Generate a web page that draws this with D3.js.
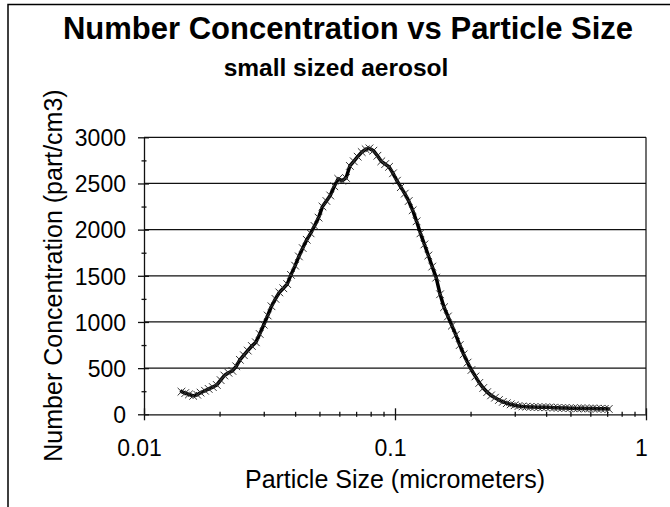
<!DOCTYPE html>
<html>
<head>
<meta charset="utf-8">
<script src="https://cdn.jsdelivr.net/npm/d3@7"></script>
<style>
body { margin: 0; background: #fff; }
svg text { font-family: "Liberation Sans", Arial, sans-serif; fill: #000; }
</style>
</head>
<body>
<script>

// particle size channels (micrometers)
var sizes = [
  0.0141, 0.0146, 0.0151, 0.0157, 0.0163, 0.0168, 0.0175, 0.0181, 0.0188, 0.0195,
  0.0202, 0.0209, 0.0217, 0.0225, 0.0233, 0.0241, 0.0250, 0.0259, 0.0269, 0.0279,
  0.0289, 0.0300, 0.0311, 0.0322, 0.0334, 0.0346, 0.0359, 0.0372, 0.0385, 0.0400,
  0.0414, 0.0429, 0.0445, 0.0461, 0.0478, 0.0496, 0.0514, 0.0533, 0.0552, 0.0573,
  0.0594, 0.0615, 0.0638, 0.0661, 0.0685, 0.0710, 0.0737, 0.0764, 0.0791, 0.0820,
  0.0851, 0.0882, 0.0914, 0.0947, 0.0982, 0.1018, 0.1055, 0.1094, 0.1134, 0.1176,
  0.1219, 0.1263, 0.1310, 0.1358, 0.1407, 0.1459, 0.1512, 0.1568, 0.1625, 0.1685,
  0.1747, 0.1811, 0.1877, 0.1946, 0.2017, 0.2091, 0.2167, 0.2247, 0.2329, 0.2414,
  0.2503, 0.2595, 0.2690, 0.2788, 0.2890, 0.2996, 0.3106, 0.3220, 0.3338, 0.3460,
  0.3587, 0.3718, 0.3854, 0.3995, 0.4142, 0.4294, 0.4451, 0.4614, 0.4783, 0.4958,
  0.5140, 0.5328, 0.5523, 0.5725, 0.5935, 0.6153, 0.6378, 0.6612, 0.6854, 0.7105
];

// number concentration (part/cm3)
var concentration = [
  245, 230, 215, 200, 212, 235, 255, 275, 295, 318,
  370, 420, 450, 470, 520, 590, 640, 690, 740, 780,
  870, 970, 1070, 1170, 1250, 1320, 1365, 1410, 1510, 1610,
  1710, 1800, 1890, 1960, 2040, 2130, 2250, 2310, 2370, 2470,
  2550, 2530, 2560, 2690, 2740, 2790, 2840, 2870, 2880, 2855,
  2800, 2740, 2710, 2680, 2610, 2530, 2460, 2390, 2310, 2210,
  2090, 1960, 1840, 1720, 1600, 1480, 1300, 1160, 1060, 960,
  860, 750, 650, 560, 480, 410, 340, 285, 240, 205,
  180, 155, 135, 120, 108, 98, 90, 85, 82, 80,
  78, 77, 76, 76, 75, 72, 70, 68, 69, 66,
  65, 64, 66, 63, 62, 64, 61, 60, 59, 58
];

var xLabels = [0.01, 0.1, 1];
var yLabels = [0, 500, 1000, 1500, 2000, 2500, 3000];

var width = 670,
    height = 507,
    plot = {left: 144, right: 646, top: 137.3, bottom: 414.3};

var svg = d3.select("body").append("svg")
    .attr("width", width)
    .attr("height", height);

// chart frame (runs off the right and bottom edge)
svg.append("rect")
    .attr("x", 8)
    .attr("y", 4.5)
    .attr("width", 700)
    .attr("height", 600)
    .attr("fill", "none")
    .attr("stroke", "#000")
    .attr("stroke-width", 1.5);

var x = d3.scaleLog().domain([0.01, 1]).range([plot.left, plot.right]),
    y = d3.scaleLinear().domain([0, 3000]).range([plot.bottom, plot.top]);

// horizontal gridlines
svg.append("g")
    .attr("class", "grid")
  .selectAll("line")
    .data(yLabels.filter(function(d) { return d > 0; }))
  .enter().append("line")
    .attr("x1", plot.left)
    .attr("x2", plot.right)
    .attr("y1", function(d) { return y(d); })
    .attr("y2", function(d) { return y(d); })
    .attr("stroke", "#111")
    .attr("stroke-width", 1.2);

// right edge of plot area
svg.append("line")
    .attr("x1", plot.right).attr("x2", plot.right)
    .attr("y1", plot.top).attr("y2", plot.bottom)
    .attr("stroke", "#111")
    .attr("stroke-width", 1.2);

function isDecade(d) {
  var l = Math.log10(d);
  return Math.abs(l - Math.round(l)) < 1e-6;
}

// x axis, log ticks crossing the line
var xAxis = d3.axisBottom(x)
    .tickValues(x.ticks())
    .tickSizeOuter(0)
    .tickFormat(function(d) { return isDecade(d) ? d3.format("~g")(d) : ""; });

var gx = svg.append("g")
    .attr("class", "axis axis--x")
    .attr("transform", "translate(0," + plot.bottom + ")")
    .call(xAxis);

gx.selectAll(".tick line")
    .attr("y1", function(d) { return isDecade(d) ? -6 : -2.5; })
    .attr("y2", function(d) { return isDecade(d) ? 6 : 2.5; });

gx.selectAll(".tick text")
    .attr("x", -5)
    .attr("y", 42)
    .attr("dy", 0)
    .attr("font-size", 23);

// y axis
var yAxis = d3.axisLeft(y)
    .tickValues(d3.range(0, 3001, 250))
    .tickSizeOuter(0)
    .tickFormat(function(d) { return d % 500 ? "" : d; });

var gy = svg.append("g")
    .attr("class", "axis axis--y")
    .attr("transform", "translate(" + plot.left + ",0)")
    .call(yAxis);

gy.selectAll(".tick line")
    .attr("x1", function(d) { return d % 500 ? -2.5 : -6; })
    .attr("x2", function(d) { return d % 500 ? 2.5 : 5; });

gy.selectAll(".tick text")
    .attr("x", -18)
    .attr("dy", "0.36em")
    .attr("font-size", 23);

svg.selectAll(".axis path, .axis line")
    .attr("stroke", "#111")
    .attr("stroke-width", 1.3);
svg.selectAll(".axis text").attr("font-family", null);

// data line
var data = sizes.map(function(d, i) { return [d, concentration[i]]; });

var line = d3.line()
    .x(function(d) { return x(d[0]); })
    .y(function(d) { return y(d[1]); });

svg.append("path")
    .datum(data)
    .attr("fill", "none")
    .attr("stroke", "#000")
    .attr("stroke-width", 3.5)
    .attr("stroke-linejoin", "round")
    .attr("stroke-linecap", "round")
    .attr("d", line);

// small x markers on each point
svg.append("g")
  .selectAll("path")
    .data(data)
  .enter().append("path")
    .attr("transform", function(d) { return "translate(" + x(d[0]) + "," + y(d[1]) + ")"; })
    .attr("d", d3.symbol(d3.symbolTimes, 40))
    .attr("fill", "none")
    .attr("stroke", "#333")
    .attr("stroke-width", 1);

// titles
svg.append("text")
    .attr("x", 348)
    .attr("y", 39)
    .attr("text-anchor", "middle")
    .attr("font-size", 31)
    .attr("font-weight", "bold")
    .text("Number Concentration vs Particle Size");

svg.append("text")
    .attr("x", 336)
    .attr("y", 76)
    .attr("text-anchor", "middle")
    .attr("font-size", 24.5)
    .attr("font-weight", "bold")
    .text("small sized aerosol");

svg.append("text")
    .attr("x", (plot.left + plot.right) / 2)
    .attr("y", 488)
    .attr("text-anchor", "middle")
    .attr("font-size", 25)
    .text("Particle Size (micrometers)");

svg.append("text")
    .attr("transform", "translate(62,275.5) rotate(-90)")
    .attr("text-anchor", "middle")
    .attr("font-size", 25)
    .text("Number Concentration (part/cm3)");

</script>
</body>
</html>
